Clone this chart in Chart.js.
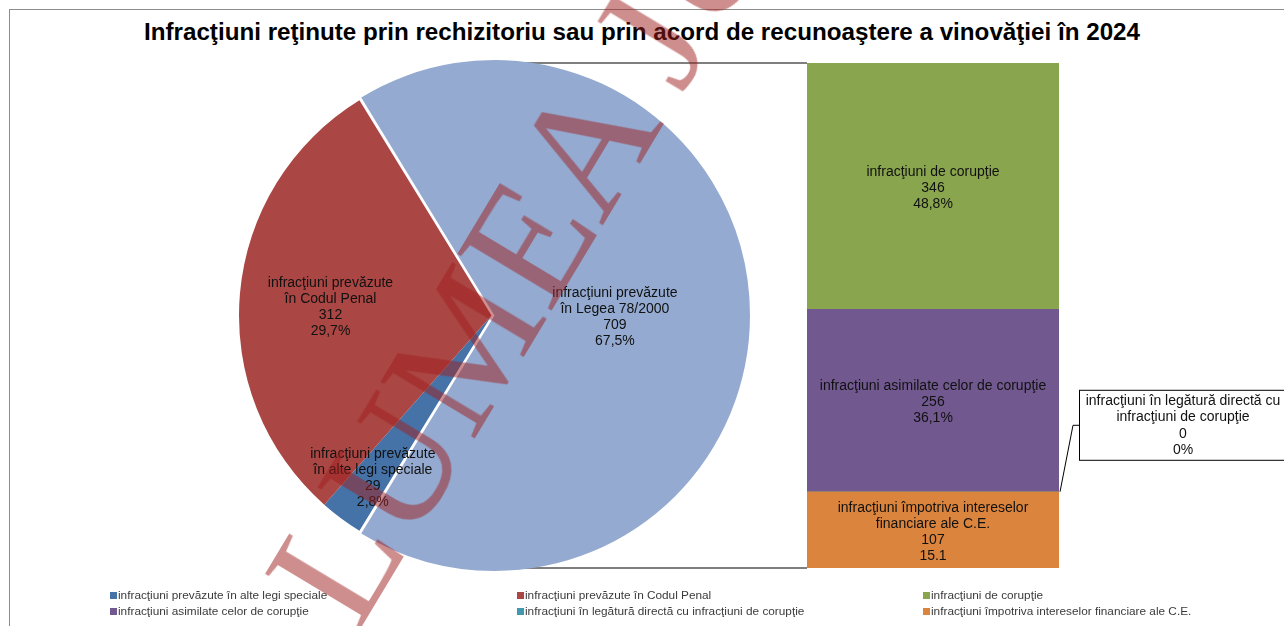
<!DOCTYPE html>
<html>
<head>
<meta charset="utf-8">
<script src="https://cdn.jsdelivr.net/npm/chart.js@4.4.1/dist/chart.umd.min.js"></script>
<style>
  body { margin: 0; background: #fff; }
  #wrap { position: relative; width: 1284px; height: 626px; overflow: hidden; font-family: "Liberation Sans", Arial, sans-serif; }
  #frame { position: absolute; left: 9px; top: 9px; width: 1300px; height: 640px; border-top: 1px solid #8c8c8c; border-left: 1px solid #8c8c8c; }
  #title { position: absolute; left: 0; top: 18px; width: 1284px; line-height: 28px; text-align: center; font-weight: bold; font-size: 24.2px; color: #000; z-index: 1; }
  canvas { position: absolute; }
  #barChart { left: 0; top: 0; z-index: 1; }
  #pieChart { left: 231px; top: 55px; z-index: 2; }
  .item { position: absolute; display: flex; align-items: center; font-size: 11.8px; line-height: 14px; color: #3a3a3a; white-space: nowrap; z-index: 1; }
  .item i { display: inline-block; width: 7px; height: 7px; margin-right: 1px; }
  #mark { position: absolute; left: 0; top: 0; transform-origin: 0 0; transform: translate(236px, 562px) rotate(-59deg);
          font: 168px "Liberation Serif", "Times New Roman", serif; line-height: 1; white-space: nowrap;
          color: rgba(160, 30, 30, 0.5); pointer-events: none; z-index: 3; }
</style>
</head>
<body>
<div id="wrap">
  <div id="frame"></div>
  <div id="title">Infracţiuni reţinute prin rechizitoriu sau prin acord de recunoaştere a vinovăţiei în 2024</div>
  <canvas id="barChart" width="1284" height="626"></canvas>
  <canvas id="pieChart" width="521" height="521"></canvas>
  <div id="legend"></div>
  <div id="mark">LUMEA JUSTIŢIEI</div>
</div>
<script>
// pie: the last slice is broken down in the bar
const pieLabels = ['infracţiuni prevăzute în alte legi speciale', 'infracţiuni prevăzute în Codul Penal', 'infracţiuni prevăzute în Legea 78/2000'];
const pieValues = [29, 312, 709];
const piePct = ['2,8%', '29,7%', '67,5%'];
const pieColors = ['#4572A7', '#AA4643', '#94AAD0'];

// bar, top to bottom
const barLabels = ['infracţiuni de corupţie', 'infracţiuni asimilate celor de corupţie', 'infracţiuni în legătură directă cu infracţiuni de corupţie', 'infracţiuni împotriva intereselor financiare ale C.E.'];
const barValues = [346, 256, 0, 107];
const barPct = ['48,8%', '36,1%', '0%', '15.1'];
const barColors = ['#89A54E', '#71588F', '#4198AF', '#DB843D'];

const labelFont = '14px "Liberation Sans", Arial, sans-serif';

function wrapText(ctx, text, maxW) {
    var words = text.split(' '), lines = [], cur = '';
    words.forEach(function (w) {
        var t = cur ? cur + ' ' + w : w;
        if (cur && ctx.measureText(t).width > maxW) { lines.push(cur); cur = w; }
        else cur = t;
    });
    if (cur) lines.push(cur);
    return lines;
}

function drawLines(ctx, lines, x, y, lh) {
    var y0 = y - (lines.length - 1) * lh / 2;
    lines.forEach(function (l, i) { ctx.fillText(l, x, y0 + i * lh); });
}

// how far the arc is pushed out by its offset (same as ArcElement.draw)
function arcShift(arc) {
    var off = (arc.options.offset || 0) / 4;
    var fix = 1 - Math.sin(Math.min(Math.PI, arc.circumference || 0));
    return off + off * fix;
}

const pieLabelPlugin = {
    id: 'pieLabels',
    afterDatasetsDraw: function (chart) {
        var ctx = chart.ctx;
        var pos = [0.79, 0.64, 0.465];
        var dy = [2, 6, 2];
        ctx.save();
        ctx.font = labelFont;
        ctx.fillStyle = '#111';
        ctx.textAlign = 'center';
        ctx.textBaseline = 'middle';
        chart.getDatasetMeta(0).data.forEach(function (arc, i) {
            var mid = (arc.startAngle + arc.endAngle) / 2;
            var r = arcShift(arc) + arc.outerRadius * pos[i];
            var lines = wrapText(ctx, pieLabels[i], 135).concat([String(pieValues[i]), piePct[i]]);
            drawLines(ctx, lines, arc.x + Math.cos(mid) * r, arc.y + Math.sin(mid) * r + dy[i], 16);
        });
        ctx.restore();
    }
};

const total = pieValues.reduce(function (a, b) { return a + b; }, 0);
const other = barValues.reduce(function (a, b) { return a + b; }, 0);

const pieCanvas = document.getElementById('pieChart');
const pieChart = new Chart(pieCanvas, {
    type: 'pie',
    data: {
        labels: pieLabels,
        datasets: [{
            data: pieValues,
            backgroundColor: pieColors,
            borderWidth: 0,
            offset: [0, 0, 12]
        }]
    },
    options: {
        responsive: false,
        animation: false,
        radius: 252.5,
        rotation: 90 + 180 * other / total,
        layout: { padding: 0 },
        plugins: { legend: { display: false }, tooltip: { enabled: false } }
    },
    plugins: [pieLabelPlugin]
});

const barPlugin = {
    id: 'barExtras',
    afterDatasetsDraw: function (chart) {
        var ctx = chart.ctx;
        var n = barValues.length;
        ctx.save();
        ctx.font = labelFont;
        ctx.fillStyle = '#111';
        ctx.textAlign = 'center';
        ctx.textBaseline = 'middle';
        for (var d = 0; d < n; d++) {
            var k = n - 1 - d;
            var el = chart.getDatasetMeta(d).data[0];
            if (barValues[k] > 0) {
                var lines = wrapText(ctx, barLabels[k], 240).concat([String(barValues[k]), barPct[k]]);
                drawLines(ctx, lines, el.x, (el.y + el.base) / 2 + 2, 16);
            } else {
                // call-out box for the empty segment
                var xr = el.x + el.width / 2, sy = el.y;
                var bx = xr + 20, by = sy - 102, bw = 208, bh = 70;
                ctx.strokeStyle = '#000';
                ctx.lineWidth = 1;
                ctx.beginPath();
                ctx.moveTo(xr + 1, sy);
                ctx.lineTo(xr + 14, sy - 66.5);
                ctx.lineTo(bx, sy - 66.5);
                ctx.stroke();
                ctx.fillStyle = '#fff';
                ctx.fillRect(bx, by, bw, bh);
                ctx.strokeRect(bx + 0.5, by + 0.5, bw, bh);
                ctx.fillStyle = '#111';
                var bl = wrapText(ctx, barLabels[k], 205).concat([String(barValues[k]), barPct[k]]);
                drawLines(ctx, bl, bx + bw / 2, by + bh / 2 + 1, 16.3);
            }
        }
        // connector lines from the pie slice to the bar
        var top = chart.getDatasetMeta(n - 1).data[0];
        var bottom = chart.getDatasetMeta(0).data[0];
        var left = top.x - top.width / 2;
        var arc = pieChart.getDatasetMeta(0).data[2];
        var px = pieCanvas.offsetLeft + arc.x + arcShift(arc);
        var py = pieCanvas.offsetTop + arc.y;
        ctx.strokeStyle = '#555';
        ctx.lineWidth = 1.5;
        ctx.beginPath();
        ctx.moveTo(px, py - arc.outerRadius);
        ctx.lineTo(left, top.y);
        ctx.moveTo(px, py + arc.outerRadius);
        ctx.lineTo(left, bottom.base);
        ctx.stroke();
        ctx.restore();
    }
};

var barSets = [];
for (var k = barValues.length - 1; k >= 0; k--) {
    barSets.push({
        label: barLabels[k],
        data: [barValues[k]],
        backgroundColor: barColors[k],
        borderWidth: 0,
        barPercentage: 1,
        categoryPercentage: 1
    });
}

new Chart(document.getElementById('barChart'), {
    type: 'bar',
    data: { labels: [''], datasets: barSets },
    options: {
        responsive: false,
        animation: false,
        layout: { padding: { left: 807, right: 225, top: 63, bottom: 58 } },
        scales: {
            x: { stacked: true, display: false },
            y: { stacked: true, display: false, min: 0, max: other }
        },
        plugins: { legend: { display: false }, tooltip: { enabled: false } }
    },
    plugins: [barPlugin]
});

// legend, 3 columns
const legendLabels = [pieLabels[0], pieLabels[1], barLabels[0], barLabels[1], barLabels[2], barLabels[3]];
const legendColors = [pieColors[0], pieColors[1], barColors[0], barColors[1], barColors[2], barColors[3]];
const legendX = [110, 517, 923];
const legendY = [588, 604];
var legend = document.getElementById('legend');
legendLabels.forEach(function (t, i) {
    var d = document.createElement('div');
    d.className = 'item';
    d.style.left = legendX[i % 3] + 'px';
    d.style.top = legendY[Math.floor(i / 3)] + 'px';
    d.innerHTML = '<i style="background:' + legendColors[i] + '"></i>';
    d.appendChild(document.createTextNode(t));
    legend.appendChild(d);
});
</script>
</body>
</html>
